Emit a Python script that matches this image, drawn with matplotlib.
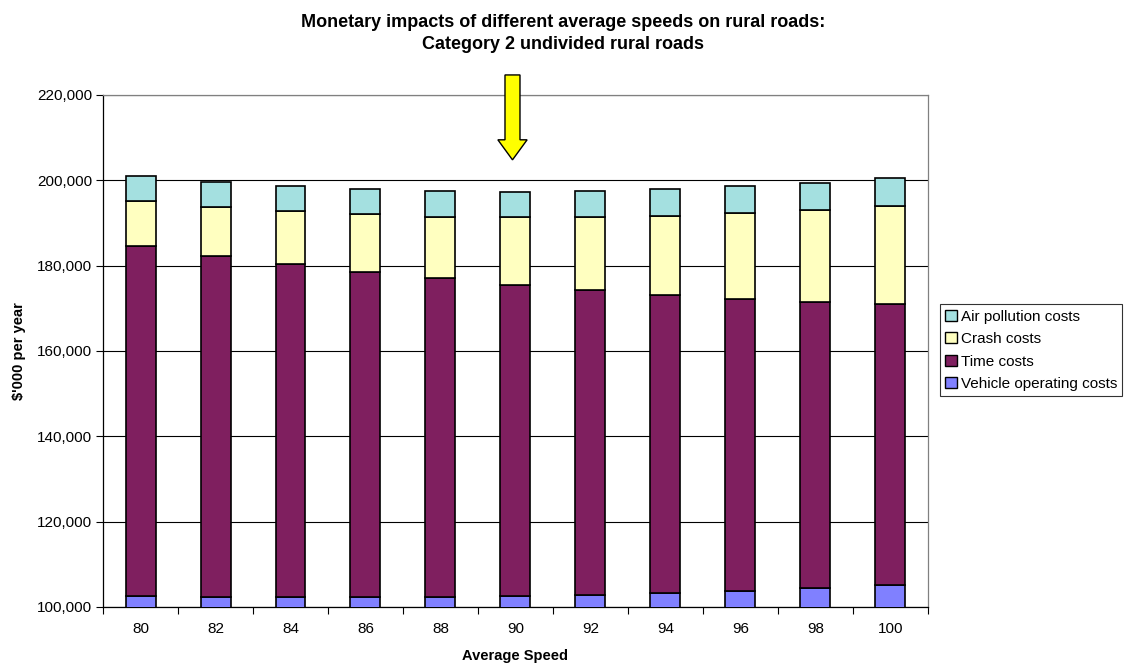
import matplotlib
matplotlib.use("Agg")
import matplotlib.pyplot as plt
from matplotlib.patches import FancyArrow, Patch
from matplotlib.ticker import FuncFormatter, FixedLocator
import numpy as np

plt.rcParams['font.family'] = ['Liberation Sans', 'DejaVu Sans']

# Average speed (km/h) categories
speeds = [80, 82, 84, 86, 88, 90, 92, 94, 96, 98, 100]

# Cost components, $'000 per year
vehicle_operating = [102580, 102350, 102330, 102280, 102280, 102510, 102910, 103380, 103850, 104460, 105160]
time_costs = [82050, 79940, 78010, 76180, 74770, 73050, 71400, 69830, 68420, 67030, 65790]
crash_costs = [10490, 11490, 12430, 13680, 14460, 15810, 17130, 18460, 20100, 21590, 23140]
air_pollution = [5860, 5800, 5940, 5790, 6030, 6000, 6170, 6260, 6270, 6330, 6420]

series_names = ["Vehicle operating costs", "Time costs", "Crash costs", "Air pollution costs"]
series_colors = ["#8080FF", "#7F1F5F", "#FFFFC0", "#A4E0E0"]

y_ticks = [100000, 120000, 140000, 160000, 180000, 200000, 220000]
highlight_speed = 90

fig = plt.figure(figsize=(11.27, 6.69), dpi=100)
ax = fig.add_axes([0.0914, 0.0927, 0.732, 0.7653])

x = np.arange(len(speeds))
bottom = np.zeros(len(speeds))
for vals, name, col in zip([vehicle_operating, time_costs, crash_costs, air_pollution],
                           series_names, series_colors):
    ax.bar(x, vals, width=0.4, bottom=bottom, color=col, edgecolor="black",
           linewidth=1.2, label=name, zorder=3)
    bottom += np.array(vals)

ax.set_xlim(-0.5, len(speeds) - 0.5)
ax.set_ylim(y_ticks[0], y_ticks[-1])
ax.set_yticks(y_ticks)
ax.yaxis.set_major_formatter(FuncFormatter(lambda v, p: f"{int(v):,}"))
ax.grid(axis="y", color="#000000", linewidth=0.8, zorder=0)

# Category labels centred, tick marks between categories
ax.set_xticks(x)
ax.set_xticklabels([str(s) for s in speeds])
ax.tick_params(axis="x", which="major", length=0, pad=11, labelsize=11)
ax.xaxis.set_minor_locator(FixedLocator(np.arange(-0.5, len(speeds), 1.0)))
ax.tick_params(axis="x", which="minor", length=5, width=0.8, direction="out", color="black")
ax.tick_params(axis="y", length=5, width=0.8, direction="out", labelsize=11, pad=3)

for side in ["top", "right"]:
    ax.spines[side].set_color("#808080")
for side in ["left", "bottom"]:
    ax.spines[side].set_color("black")
for sp in ax.spines.values():
    sp.set_linewidth(0.9)

ax.set_xlabel("Average Speed", fontsize=10.5, fontweight="bold", labelpad=9)
ax.set_ylabel("$'000 per year", fontsize=10.5, fontweight="bold", labelpad=8)

fig.suptitle("Monetary impacts of different average speeds on rural roads:\nCategory 2 undivided rural roads",
             x=0.5, y=0.979, fontsize=13, fontweight="bold", va="top", linespacing=1.4)

# Yellow arrow pointing at the chosen speed
xi = speeds.index(highlight_speed) - 0.04
arrow = FancyArrow(xi, 224700, 0, -19900, width=0.2, head_width=0.39, head_length=4700,
                   length_includes_head=True, facecolor="#FFFF00", edgecolor="black",
                   linewidth=1.0, clip_on=False, zorder=5)
ax.add_patch(arrow)

handles = [Patch(facecolor=c, edgecolor="black", linewidth=1.0, label=n)
           for n, c in zip(series_names, series_colors)][::-1]
leg = fig.legend(handles=handles, loc="upper left", bbox_to_anchor=(0.834, 0.545),
                 fontsize=11, frameon=True, fancybox=False, edgecolor="black",
                 handlelength=0.75, handleheight=0.75, handletextpad=0.25,
                 labelspacing=0.55, borderpad=0.35, borderaxespad=0)
leg.get_frame().set_linewidth(0.8)

fig.savefig("out.png", dpi=100)
